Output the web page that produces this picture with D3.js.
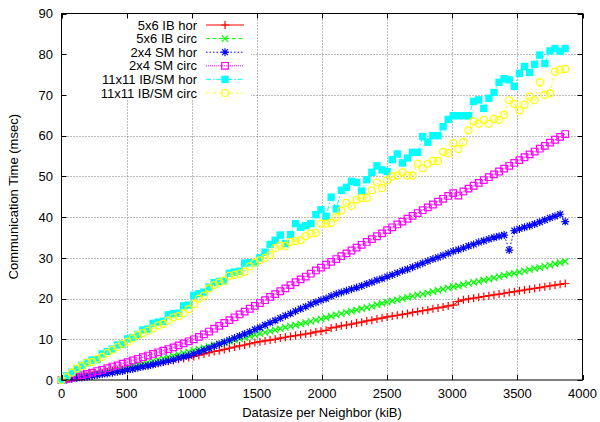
<!DOCTYPE html>
<html>
<head>
<meta charset="utf-8">
<script src="https://cdn.jsdelivr.net/npm/d3@7"></script>
<style>
  body { margin: 0; background: #fff; }
  svg { display: block; font-family: "Liberation Sans", Arial, Helvetica, sans-serif; }
</style>
</head>
<body>
<svg id="chart" width="600" height="422"></svg>
<script>
// datasize per neighbor (kiB), shared by all six series
var datasize = [0, 39.1, 78.1, 117.2, 156.3, 195.3, 234.4, 273.4, 312.5, 351.6,
    390.6, 429.7, 468.8, 507.8, 546.9, 585.9, 625.0, 664.1, 703.1, 742.2,
    781.3, 820.3, 859.4, 898.4, 937.5, 976.6, 1015.6, 1054.7, 1093.8, 1132.8,
    1171.9, 1210.9, 1250.0, 1289.1, 1328.1, 1367.2, 1406.3, 1445.3, 1484.4, 1523.4,
    1562.5, 1601.6, 1640.6, 1679.7, 1718.8, 1757.8, 1796.9, 1835.9, 1875.0, 1914.1,
    1953.1, 1992.2, 2031.3, 2070.3, 2109.4, 2148.4, 2187.5, 2226.6, 2265.6, 2304.7,
    2343.8, 2382.8, 2421.9, 2460.9, 2500.0, 2539.1, 2578.1, 2617.2, 2656.3, 2695.3,
    2734.4, 2773.4, 2812.5, 2851.6, 2890.6, 2929.7, 2968.8, 3007.8, 3046.9, 3085.9,
    3125.0, 3164.1, 3203.1, 3242.2, 3281.3, 3320.3, 3359.4, 3398.4, 3437.5, 3476.6,
    3515.6, 3554.7, 3593.8, 3632.8, 3671.9, 3710.9, 3750.0, 3789.1, 3828.1, 3867.2];

// communication time (msec)
var ib5x6Hor = [0, 0.2, 0.4, 0.7, 0.9, 1.1, 1.3, 1.5, 1.8, 2.0,
    2.2, 2.4, 2.6, 2.9, 3.1, 3.3, 3.5, 3.7, 4.0, 4.2,
    4.4, 4.6, 4.8, 5.1, 5.3, 5.5, 5.8, 6.1, 6.4, 6.7,
    7.0, 7.2, 7.5, 7.8, 8.1, 8.4, 8.6, 8.9, 9.2, 9.4,
    9.6, 9.8, 10.0, 10.3, 10.5, 10.7, 10.9, 11.1, 11.3, 11.5,
    11.8, 12.0, 12.2, 12.8, 13.0, 13.3, 13.5, 13.7, 14.0, 14.2,
    14.5, 14.7, 15.0, 15.2, 15.5, 15.7, 15.9, 16.1, 16.3, 16.6,
    16.8, 17.0, 17.2, 17.5, 17.7, 17.9, 18.2, 18.4, 19.3, 19.7,
    19.9, 20.1, 20.3, 20.5, 20.7, 20.9, 21.1, 21.3, 21.5, 21.7,
    21.9, 22.1, 22.3, 22.5, 22.7, 22.9, 23.1, 23.3, 23.5, 23.7];

var ib5x6Circ = [0, 0.2, 0.5, 0.7, 1.0, 1.2, 1.4, 1.7, 1.9, 2.2,
    2.4, 2.7, 2.9, 3.2, 3.5, 3.8, 4.1, 4.4, 4.7, 5.0,
    5.3, 5.6, 5.9, 6.3, 6.6, 6.9, 7.3, 7.6, 7.9, 8.2,
    8.6, 8.9, 9.2, 9.5, 9.8, 10.1, 10.4, 10.8, 11.1, 11.4,
    11.7, 12.0, 12.3, 12.6, 12.9, 13.2, 13.5, 13.8, 14.1, 14.4,
    14.7, 15.0, 15.3, 15.7, 16.0, 16.3, 16.6, 16.9, 17.2, 17.5,
    17.8, 18.1, 18.5, 18.8, 19.1, 19.4, 19.7, 20.0, 20.3, 20.6,
    20.9, 21.1, 21.4, 21.7, 22.0, 22.3, 22.6, 22.9, 23.1, 23.4,
    23.7, 24.0, 24.2, 24.5, 24.8, 25.1, 25.4, 25.7, 26.0, 26.2,
    26.5, 26.8, 27.1, 27.4, 27.6, 27.9, 28.2, 28.5, 28.8, 29.1];

var sm2x4Hor = [0, 0.1, 0.3, 0.5, 0.6, 0.8, 1.0, 1.2, 1.4, 1.6,
    1.8, 2.0, 2.2, 2.5, 2.7, 3.0, 3.3, 3.5, 3.8, 4.1,
    4.4, 4.7, 5.0, 5.4, 5.7, 6.0, 6.4, 6.9, 7.3, 7.8,
    8.3, 8.8, 9.3, 9.8, 10.3, 10.8, 11.3, 11.8, 12.4, 12.9,
    13.5, 14.1, 14.6, 15.2, 15.8, 16.3, 16.9, 17.5, 18.0, 18.6,
    19.1, 19.6, 20.0, 20.6, 21.1, 21.5, 21.9, 22.3, 22.7, 23.1,
    23.6, 24.0, 24.5, 24.9, 25.4, 25.8, 26.3, 26.8, 27.2, 27.7,
    28.2, 28.7, 29.2, 29.7, 30.1, 30.6, 31.1, 31.6, 32.0, 32.4,
    32.9, 33.3, 33.8, 34.2, 34.6, 35.0, 35.3, 35.6, 31.9, 36.7,
    37.1, 37.5, 37.9, 38.3, 38.8, 39.3, 39.8, 40.2, 40.7, 38.9];

var sm2x4Circ = [0, 0.3, 0.6, 0.9, 1.2, 1.5, 1.8, 2.2, 2.5, 2.9,
    3.3, 3.6, 4.0, 4.4, 4.8, 5.2, 5.6, 6.0, 6.4, 6.8,
    7.2, 7.6, 8.0, 8.5, 9.0, 9.5, 10.0, 10.6, 11.2, 11.9,
    12.6, 13.3, 14.0, 14.7, 15.4, 16.1, 16.8, 17.5, 18.2, 18.9,
    19.6, 20.4, 21.1, 21.8, 22.5, 23.3, 24.0, 24.7, 25.4, 26.1,
    26.9, 27.6, 28.3, 29.0, 29.7, 30.4, 31.1, 31.8, 32.5, 33.2,
    33.9, 34.6, 35.3, 36.0, 36.8, 37.5, 38.2, 38.9, 39.6, 40.3,
    41.0, 41.7, 42.4, 43.1, 43.8, 44.5, 45.2, 45.9, 45.3, 46.3,
    47.0, 47.7, 48.4, 49.1, 49.8, 50.5, 51.2, 51.9, 52.6, 53.3,
    54.0, 54.7, 55.4, 56.1, 56.8, 57.5, 58.3, 59.0, 59.7, 60.4];

var mix11x11Hor = [0, 1.0, 1.9, 2.7, 3.6, 4.2, 4.9, 5.0, 6.4, 7.0,
    7.6, 8.6, 8.8, 10.1, 10.4, 11.2, 12.3, 12.5, 13.9, 14.2,
    14.4, 16.0, 16.3, 16.4, 18.2, 18.4, 20.8, 21.2, 21.6, 22.8,
    23.9, 24.2, 24.4, 26.2, 26.5, 26.7, 28.7, 28.8, 28.8, 30.0,
    31.4, 33.3, 34.3, 35.6, 33.5, 35.7, 38.4, 37.5, 37.9, 38.4,
    40.6, 41.8, 40.2, 44.9, 42.0, 46.6, 47.3, 48.8, 48.5, 46.4,
    49.2, 51.0, 52.6, 51.6, 51.2, 54.1, 55.5, 53.3, 54.5, 55.9,
    55.9, 59.8, 58.4, 60.0, 60.0, 62.2, 64.0, 64.9, 64.9, 64.9,
    64.9, 68.4, 68.8, 66.7, 69.2, 70.6, 73.1, 74.0, 73.7, 72.1,
    75.3, 77.0, 75.5, 77.5, 79.8, 77.7, 80.8, 81.4, 80.7, 81.4];

var mix11x11Circ = [0, 0.7, 1.8, 2.8, 3.4, 4.3, 4.4, 5.2, 5.7, 6.6,
    7.4, 8.1, 8.9, 9.4, 10.2, 11.0, 11.5, 12.1, 12.7, 13.4,
    13.8, 14.6, 15.4, 15.7, 16.4, 17.4, 18.6, 20.0, 20.7, 22.5,
    23.3, 23.9, 24.4, 25.6, 25.8, 26.1, 26.6, 27.9, 28.8, 29.4,
    30.0, 30.7, 32.4, 33.0, 32.9, 33.9, 34.1, 34.3, 35.3, 36.0,
    36.1, 38.4, 38.4, 38.6, 40.0, 41.6, 43.5, 42.7, 44.3, 44.7,
    44.7, 46.6, 48.5, 47.1, 49.0, 50.0, 50.2, 51.0, 50.2, 50.2,
    53.1, 52.0, 53.1, 53.8, 53.8, 56.0, 55.7, 58.2, 56.7, 58.4,
    61.3, 63.5, 62.9, 63.9, 62.9, 64.1, 63.9, 65.1, 68.7, 67.8,
    66.2, 67.6, 69.6, 68.7, 73.1, 70.0, 70.4, 75.7, 76.2, 76.4];

var seriesNames = ["5x6 IB hor", "5x6 IB circ", "2x4 SM hor", "2x4 SM circ",
    "11x11 IB/SM hor", "11x11 IB/SM circ"];
var xTicks = [0, 500, 1000, 1500, 2000, 2500, 3000, 3500, 4000];
var yTicks = [0, 10, 20, 30, 40, 50, 60, 70, 80, 90];

var series = [
    { name: seriesNames[0], values: ib5x6Hor, color: "#ff0000", dash: null, marker: "plus" },
    { name: seriesNames[1], values: ib5x6Circ, color: "#00ff00", dash: "4,2.5", marker: "cross" },
    { name: seriesNames[2], values: sm2x4Hor, color: "#0000ff", dash: "1.5,2", marker: "star" },
    { name: seriesNames[3], values: sm2x4Circ, color: "#ff00ff", dash: "1,1", marker: "box" },
    { name: seriesNames[4], values: mix11x11Hor, color: "#00ffff", dash: "5,2,1.5,2", marker: "fbox" },
    { name: seriesNames[5], values: mix11x11Circ, color: "#ffff00", dash: "2.5,2,1,2", marker: "circle" }
];

var svg = d3.select("#chart");
// plot frame (window.top is taken, so prefix these)
var plotLeft = 61.5, plotRight = 582.5, plotTop = 13.5, plotBottom = 380;

var x = d3.scaleLinear().domain([0, 4000]).range([plotLeft, plotRight]);
var y = d3.scaleLinear().domain([0, 90]).range([plotBottom, plotTop]);

function markerPath(type) {
    // symbol outlines around (0,0)
    switch (type) {
        case "plus": return "M-4,0H4M0,-4V4";
        case "cross": return "M-3.2,-3.2L3.2,3.2M-3.2,3.2L3.2,-3.2";
        case "star": return "M-4,0H4M0,-4V4M-3,-3L3,3M-3,3L3,-3";
        case "box": return "M-3.3,-3.3h6.6v6.6h-6.6z";
        case "fbox": return "M-3.7,-3.7h7.4v7.4h-7.4z";
        case "circle": return "M3.5,0A3.5,3.5 0 1,1 -3.5,0A3.5,3.5 0 1,1 3.5,0";
    }
}

function drawMarker(g, type, color, px, py) {
    g.append("path")
        .attr("transform", `translate(${px},${py})`)
        .attr("d", markerPath(type))
        .attr("fill", type == "fbox" ? color : "none")
        .attr("stroke", type == "fbox" ? "none" : color)
        .attr("stroke-width", 1.2);
}

// grid
var grid = svg.append("g").attr("stroke", "#777").attr("stroke-width", 1)
    .attr("stroke-dasharray", "1,2");
xTicks.slice(1, -1).forEach(function (t) {
    grid.append("line").attr("x1", Math.round(x(t)) + 0.5).attr("x2", Math.round(x(t)) + 0.5)
        .attr("y1", plotTop).attr("y2", plotBottom);
});
yTicks.slice(1, -1).forEach(function (t) {
    grid.append("line").attr("y1", Math.round(y(t)) + 0.5).attr("y2", Math.round(y(t)) + 0.5)
        .attr("x1", plotLeft).attr("x2", plotRight);
});

// key sits on an opaque white box
svg.append("rect").attr("x", plotLeft + 1).attr("y", plotTop + 1)
    .attr("width", 250 - plotLeft).attr("height", 97 - plotTop).attr("fill", "#fff");

// data
var line = d3.line().x(function (d) { return x(d[0]); }).y(function (d) { return y(d[1]); });
series.forEach(function (s) {
    var pts = datasize.map(function (d, i) { return [d, s.values[i]]; });
    var g = svg.append("g");
    g.append("path").datum(pts)
        .attr("d", line)
        .attr("fill", "none")
        .attr("stroke", s.color)
        .attr("stroke-width", 1)
        .attr("stroke-dasharray", s.dash);
    pts.forEach(function (p) { drawMarker(g, s.marker, s.color, x(p[0]), y(p[1])); });
});

// legend
var legend = svg.append("g").attr("font-size", 13);
series.forEach(function (s, i) {
    var ly = 25 + i * 13.6;
    legend.append("text").attr("x", 197).attr("y", ly + 4.5)
        .attr("text-anchor", "end").text(s.name);
    legend.append("line").attr("x1", 206).attr("x2", 244).attr("y1", ly).attr("y2", ly)
        .attr("stroke", s.color).attr("stroke-width", 1).attr("stroke-dasharray", s.dash);
    drawMarker(legend, s.marker, s.color, 225, ly);
});

// border and inward ticks on all four sides
var axes = svg.append("g").attr("stroke", "#000").attr("stroke-width", 1);
axes.append("rect").attr("x", plotLeft).attr("y", plotTop)
    .attr("width", plotRight - plotLeft).attr("height", plotBottom - plotTop).attr("fill", "none");
xTicks.forEach(function (t) {
    var px = Math.round(x(t)) + 0.5;
    axes.append("line").attr("x1", px).attr("x2", px).attr("y1", plotBottom).attr("y2", plotBottom - 5);
    axes.append("line").attr("x1", px).attr("x2", px).attr("y1", plotTop).attr("y2", plotTop + 5);
});
yTicks.forEach(function (t) {
    var py = Math.round(y(t)) + 0.5;
    axes.append("line").attr("y1", py).attr("y2", py).attr("x1", plotLeft).attr("x2", plotLeft + 5);
    axes.append("line").attr("y1", py).attr("y2", py).attr("x1", plotRight).attr("x2", plotRight - 5);
});

// tick labels
var labels = svg.append("g").attr("font-size", 13).attr("fill", "#000");
xTicks.forEach(function (t) {
    labels.append("text").attr("x", x(t)).attr("y", 398)
        .attr("text-anchor", "middle").text(t);
});
yTicks.forEach(function (t) {
    labels.append("text").attr("x", 53).attr("y", y(t) + 4.7)
        .attr("text-anchor", "end").text(t);
});

// axis titles
svg.append("text").attr("x", (plotLeft + plotRight) / 2).attr("y", 417)
    .attr("text-anchor", "middle").attr("font-size", 13)
    .text("Datasize per Neighbor (kiB)");
svg.append("text")
    .attr("transform", `translate(18,${(plotTop + plotBottom) / 2}) rotate(-90)`)
    .attr("text-anchor", "middle").attr("font-size", 13)
    .text("Communication Time (msec)");
</script>
</body>
</html>
